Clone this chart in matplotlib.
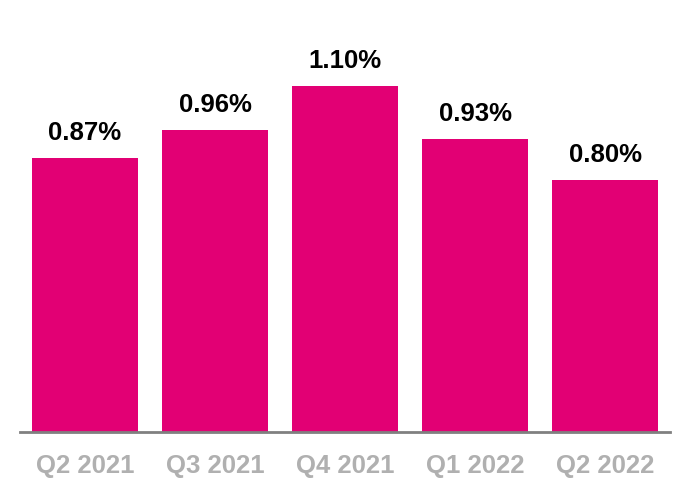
import matplotlib.pyplot as plt

quarters = ["Q2 2021", "Q3 2021", "Q4 2021", "Q1 2022", "Q2 2022"]
rates = [0.87, 0.96, 1.10, 0.93, 0.80]

plt.rcParams['font.family'] = ['Liberation Sans', 'DejaVu Sans']

fig = plt.figure(figsize=(6.9, 5), dpi=100)
ax = fig.add_axes([20 / 690, 68 / 500, 650 / 690, 378 / 500])

x = range(len(quarters))
bars = ax.bar(x, rates, width=0.815, color='#E20074')
for b, v in zip(bars, rates):
    ax.text(b.get_x() + b.get_width() / 2, v + 0.04, f"{v:.2f}%",
            ha='center', va='bottom', fontsize=18.5, fontweight='bold', color='black')

ax.set_xlim(-0.5, 4.5)
ax.set_ylim(0, 1.2)
ax.set_xticks(list(x))
ax.set_xticklabels(quarters, fontsize=18.5, fontweight='bold', color='#B0B0B0')
ax.tick_params(axis='x', length=0, pad=15.5)
ax.set_yticks([])
for s in ['top', 'right', 'left']:
    ax.spines[s].set_visible(False)
ax.spines['bottom'].set_color('#808080')
ax.spines['bottom'].set_linewidth(2)

fig.savefig('out.png', dpi=100)
